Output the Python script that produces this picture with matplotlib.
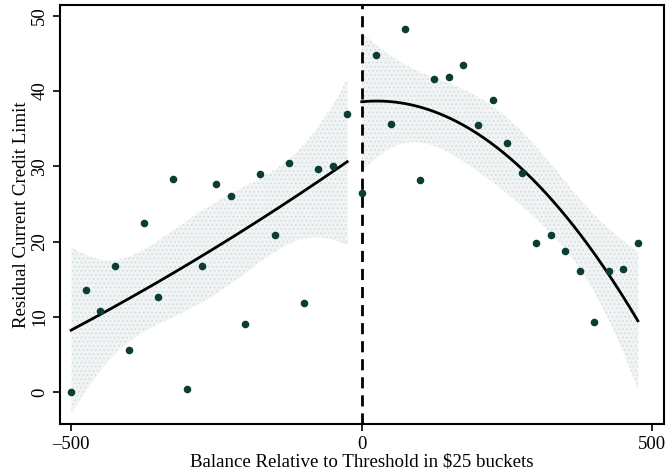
import numpy as np
import matplotlib
matplotlib.use("Agg")
import matplotlib.pyplot as plt

# ---- data ----
x_left = [-500, -475, -450, -425, -400, -375, -350, -325, -300, -275,
          -250, -225, -200, -175, -150, -125, -100, -75, -50, -25]
y_left = [0.0, 13.6, 10.8, 16.8, 5.6, 22.5, 12.6, 28.3, 0.5, 16.8,
          27.7, 26.1, 9.1, 29.0, 20.9, 30.5, 11.9, 29.7, 30.0, 36.9]
x_right = [0, 25, 50, 75, 100, 125, 150, 175, 200, 225,
           250, 275, 300, 325, 350, 375, 400, 425, 450, 475]
y_right = [26.4, 44.8, 35.6, 48.3, 28.2, 41.6, 41.9, 43.4, 35.5, 38.8,
           33.1, 29.1, 19.8, 20.9, 18.7, 16.1, 9.4, 16.1, 16.4, 19.8]
x_ticks = [-500, 0, 500]
x_ticklabels = ["\u2013500", "0", "500"]
y_ticks = [0, 10, 20, 30, 40, 50]

plt.rcParams['font.family'] = ['Liberation Serif', 'DejaVu Serif']
plt.rcParams['hatch.linewidth'] = 0.6

fig = plt.figure(figsize=(6.67, 4.72), dpi=100)
ax = fig.add_axes([0.090, 0.101, 0.9055, 0.888])

dot_color = '#0b3d33'
band_color = '#f1f4f4'


def quad_fit(x, y):
    x = np.asarray(x, float)
    y = np.asarray(y, float)
    X = np.column_stack([np.ones_like(x), x, x ** 2])
    beta, *_ = np.linalg.lstsq(X, y, rcond=None)
    resid = y - X @ beta
    n, k = X.shape
    s2 = resid @ resid / (n - k)
    cov = s2 * np.linalg.inv(X.T @ X)
    xs = np.linspace(x.min(), x.max(), 200)
    Xs = np.column_stack([np.ones_like(xs), xs, xs ** 2])
    fit = Xs @ beta
    se = np.sqrt(np.einsum('ij,jk,ik->i', Xs, cov, Xs))
    return xs, fit, se


for xs_, ys_ in [(x_left, y_left), (x_right, y_right)]:
    xs, fit, se = quad_fit(xs_, ys_)
    lo, hi = fit - 2.1 * se, fit + 2.1 * se
    ax.fill_between(xs, lo, hi, color=band_color, lw=0, zorder=1)
    ax.fill_between(xs, lo, hi, facecolor='none', edgecolor='#d2dada',
                    hatch='....', lw=0, zorder=1)
    ax.plot(xs, fit, color='black', lw=2.0, zorder=3)

ax.scatter(x_left + x_right, y_left + y_right, s=30, color=dot_color,
           zorder=4, linewidths=0)

ax.axvline(0, color='black', lw=2.0, ls=(0, (4, 2.5)), zorder=2)

ax.set_xlim(-519, 520)
ax.set_ylim(-4.25, 51.4)
ax.set_xticks(x_ticks)
ax.set_xticklabels(x_ticklabels)
ax.set_yticks(y_ticks)
ax.tick_params(axis='both', direction='out', length=5, width=1.2,
               labelsize=13.5, color='black')
for lab in ax.get_yticklabels():
    lab.set_rotation(90)
    lab.set_va('center')
for sp in ax.spines.values():
    sp.set_linewidth(1.5)

ax.set_xlabel("Balance Relative to Threshold in $25 buckets", fontsize=13.6,
              labelpad=0)
ax.set_ylabel("Residual Current Credit Limit", fontsize=13.6, labelpad=1)

fig.savefig("out.png", dpi=100)
